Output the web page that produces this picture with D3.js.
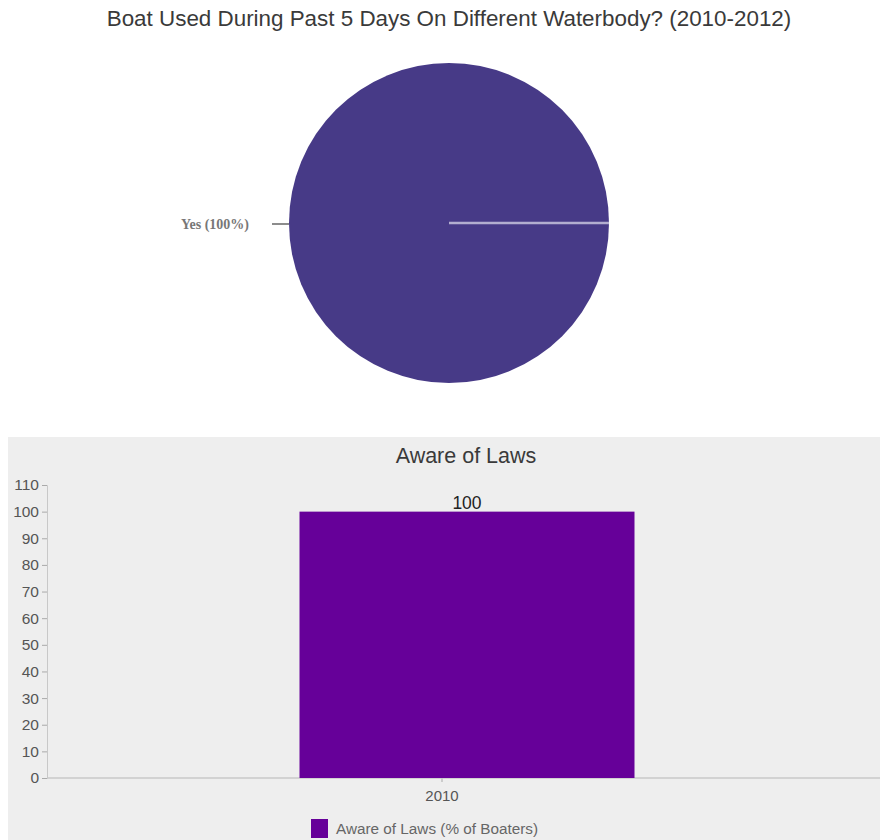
<!DOCTYPE html>
<html>
<head>
<meta charset="utf-8">
<script src="https://cdn.jsdelivr.net/npm/d3@7"></script>
<style>
  body { margin: 0; background: #fff; }
  svg { display: block; font-family: "Liberation Sans", Arial, sans-serif; }
</style>
</head>
<body>
<div id="chart-area"></div>
<script>
// pie data
var pieLabels = ["Yes"];
var pieValues = [100];
var pieColors = ["#473a87"];

// bar data
var barCategories = ["2010"];
var barValues = [100];
var yTicks = [0, 10, 20, 30, 40, 50, 60, 70, 80, 90, 100, 110];
var barSeriesName = "Aware of Laws (% of Boaters)";

var svg = d3.select("#chart-area").append("svg")
    .attr("width", 880)
    .attr("height", 840);

// ---- pie ----
svg.append("text")
    .attr("x", 449).attr("y", 26)
    .attr("text-anchor", "middle")
    .attr("font-size", 22.4)
    .attr("fill", "#3a3a3a")
    .text("Boat Used During Past 5 Days On Different Waterbody? (2010-2012)");

var cx = 449, cy = 223, r = 160;
var pieData = pieLabels.map((d, i) => ({label: d, value: pieValues[i]}));
var pie = d3.pie().value((d) => d.value).sort(null)
    .startAngle(Math.PI / 2).endAngle(Math.PI / 2 + 2 * Math.PI);
var arc = d3.arc().innerRadius(0).outerRadius(r);
var total = d3.sum(pieValues);

var pg = svg.append("g").attr("transform", "translate(" + cx + "," + cy + ")");
var arcs = pie(pieData);
pg.selectAll("path")
    .data(arcs)
    .enter()
    .append("path")
        .attr("d", arc)
        .attr("fill", (d, i) => pieColors[i]);

// slice boundary line
arcs.forEach((d) => {
    var a = d.startAngle;
    pg.append("line")
        .attr("x1", 0).attr("y1", 0)
        .attr("x2", r * Math.sin(a)).attr("y2", -r * Math.cos(a))
        .attr("stroke", "#b3aed0")
        .attr("stroke-width", 2.5);
});

// labels (single full slice -> placed on the left)
arcs.forEach((d) => {
    pg.append("line")
        .attr("x1", -r - 17).attr("y1", 1)
        .attr("x2", -r).attr("y2", 1)
        .attr("stroke", "#666").attr("stroke-width", 1.5);
    pg.append("text")
        .attr("x", -r - 40).attr("y", 6)
        .attr("text-anchor", "end")
        .attr("font-family", "'Liberation Serif', 'DejaVu Serif', serif")
        .attr("font-weight", "bold")
        .attr("font-size", 14)
        .attr("fill", "#777")
        .text(d.data.label + " (" + Math.round(d.data.value / total * 100) + "%)");
});

// ---- bar chart ----
var panel = {x: 8, y: 437, w: 872, h: 403};
svg.append("rect")
    .attr("x", panel.x).attr("y", panel.y)
    .attr("width", panel.w).attr("height", panel.h)
    .attr("fill", "#eeeeee");

svg.append("text")
    .attr("x", 466).attr("y", 463)
    .attr("text-anchor", "middle")
    .attr("font-size", 21.5)
    .attr("fill", "#3a3a3a")
    .text("Aware of Laws");

var margin = {left: 47, right: 43, top: 485, bottom: 778};
var y = d3.scaleLinear().domain([0, 110]).range([margin.bottom, margin.top]);
var x = d3.scaleBand().domain(barCategories).range([margin.left, 880 - margin.right]);

var yAxis = svg.append("g")
    .attr("transform", "translate(" + margin.left + ",0)")
    .call(d3.axisLeft(y).tickValues(yTicks).tickSize(5).tickPadding(3));
yAxis.select(".domain").attr("stroke", "#c8c8c8");
yAxis.selectAll(".tick line").attr("stroke", "#aaa");
yAxis.selectAll(".tick text")
    .attr("font-size", 15.5).attr("fill", "#555")
    .attr("font-family", "'Liberation Sans', Arial, sans-serif");

var xAxis = svg.append("g")
    .attr("transform", "translate(0," + margin.bottom + ")")
    .call(d3.axisBottom(x).tickSize(4).tickPadding(8));
xAxis.select(".domain").remove();
svg.append("line")
    .attr("x1", margin.left).attr("x2", 880)
    .attr("y1", margin.bottom).attr("y2", margin.bottom)
    .attr("stroke", "#c8c8c8").attr("stroke-width", 1.5);
xAxis.selectAll(".tick line").attr("stroke", "#aaa");
xAxis.selectAll(".tick text")
    .attr("font-size", 15).attr("fill", "#555")
    .attr("font-family", "'Liberation Sans', Arial, sans-serif");

var barWidth = 335;
var barShift = 25;
svg.selectAll("rect.bar")
    .data(barValues)
    .enter()
    .append("rect")
        .attr("class", "bar")
        .attr("x", (d, i) => x(barCategories[i]) + x.bandwidth() / 2 + barShift - barWidth / 2)
        .attr("y", (d) => y(d))
        .attr("width", barWidth)
        .attr("height", (d) => y(0) - y(d))
        .attr("fill", "#660099");

svg.selectAll("text.val")
    .data(barValues)
    .enter()
    .append("text")
        .attr("class", "val")
        .attr("x", (d, i) => x(barCategories[i]) + x.bandwidth() / 2 + barShift)
        .attr("y", (d) => y(d) - 3)
        .attr("text-anchor", "middle")
        .attr("font-size", 17.5)
        .attr("fill", "#222")
        .text((d) => d);

// legend
svg.append("rect")
    .attr("x", 311).attr("y", 819)
    .attr("width", 17).attr("height", 19)
    .attr("fill", "#660099");
svg.append("text")
    .attr("x", 336).attr("y", 834)
    .attr("font-size", 15.3)
    .attr("fill", "#666")
    .text(barSeriesName);
</script>
</body>
</html>
